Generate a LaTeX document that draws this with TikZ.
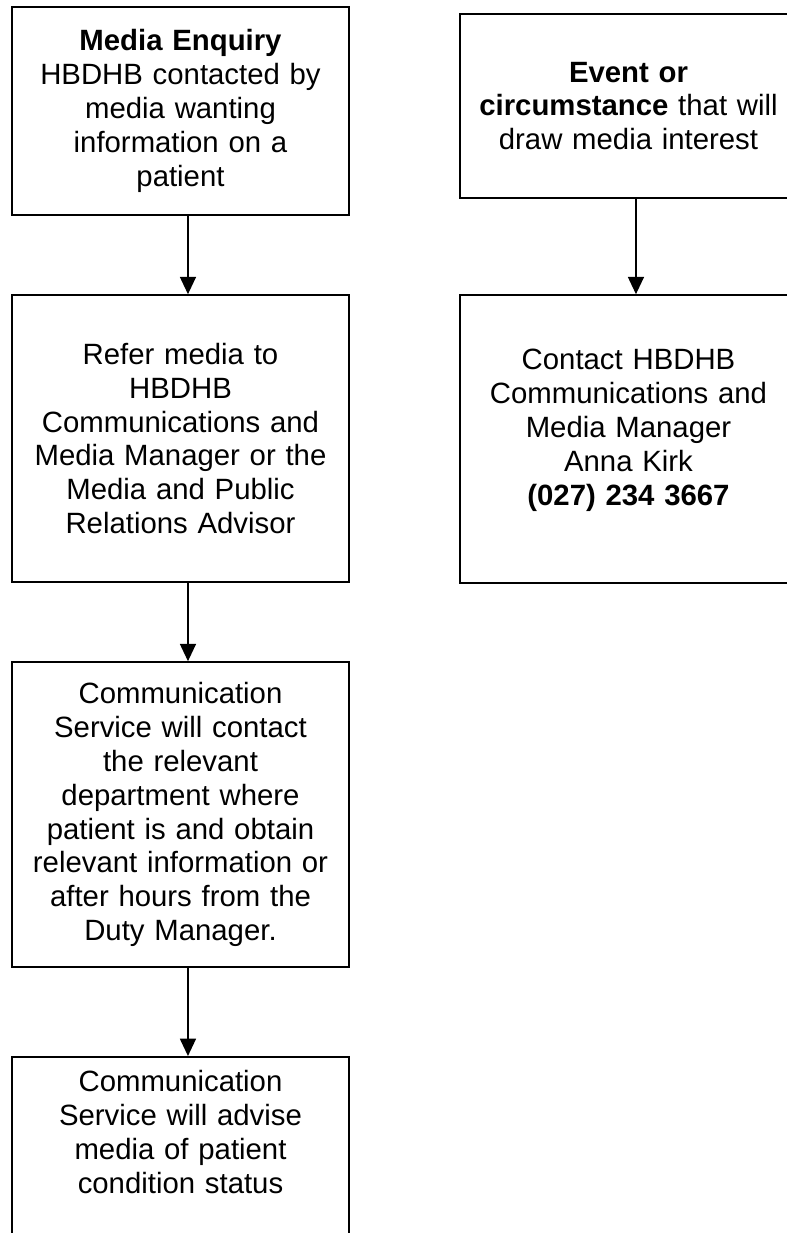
\documentclass[tikz,border=0pt]{standalone}
\usepackage{fontspec}
\setmainfont{Liberation Sans}
\usetikzlibrary{arrows.meta, positioning}
\tikzset{
  flowbox/.style={draw, line width=1.2pt, align=center, text width=250pt,
    minimum width=252.75pt, inner sep=0pt, font=\fontsize{22}{25.4}\selectfont},
  flowarrow/.style={line width=1.2pt, -{Triangle[length=13pt, width=12pt]}}
}

\begin{document}
\begin{tikzpicture}[x=0.75pt, y=-0.75pt]
        \useasboundingbox (0,0) rectangle (787,1233);
        \clip (0,0) rectangle (787,1233);

        % Left column
        \node[flowbox, minimum height=156pt] (mediaq) at (180.5,111)
          {\textbf{Media Enquiry}\\ HBDHB contacted by\\ media wanting\\ information on a\\ patient};
        \node[flowbox, minimum height=215.25pt] (refer) at (180.5,438.5)
          {Refer media to\\ HBDHB\\ Communications and\\ Media Manager or the\\ Media and Public\\ Relations Advisor};
        \node[flowbox, minimum height=228.75pt] (commsvc) at (180.5,814.5)
          {Communication\\ Service will contact\\ the relevant\\ department where\\ patient is and obtain\\ relevant information or\\ after hours from the\\ Duty Manager.};
        \node[flowbox, anchor=north, inner ysep=10pt, text depth=200pt] (advise) at (180.5,1056)
          {Communication\\ Service will advise\\ media of patient\\ condition status};

        % Right column
        \node[flowbox, minimum height=138pt] (event) at (628.5,106)
          {\textbf{Event or}\\ \textbf{circumstance} that will\\ draw media interest};
        \node[flowbox, minimum height=216pt] (contact) at (628.5,439)
          {Contact HBDHB\\ Communications and\\ Media Manager\\ Anna Kirk\\ \textbf{(027) 234 3667}\\[-8pt]\mbox{}};

        % Arrows
        \draw[flowarrow] ([xshift=5.6pt]mediaq.south) -- ([xshift=5.6pt]refer.north);
        \draw[flowarrow] ([xshift=5.6pt]refer.south) -- ([xshift=5.6pt]commsvc.north);
        \draw[flowarrow] ([xshift=5.6pt]commsvc.south) -- ([xshift=5.6pt]advise.north);
        \draw[flowarrow] ([xshift=5.6pt]event.south) -- ([xshift=5.6pt]contact.north);
    \end{tikzpicture}
\end{document}
